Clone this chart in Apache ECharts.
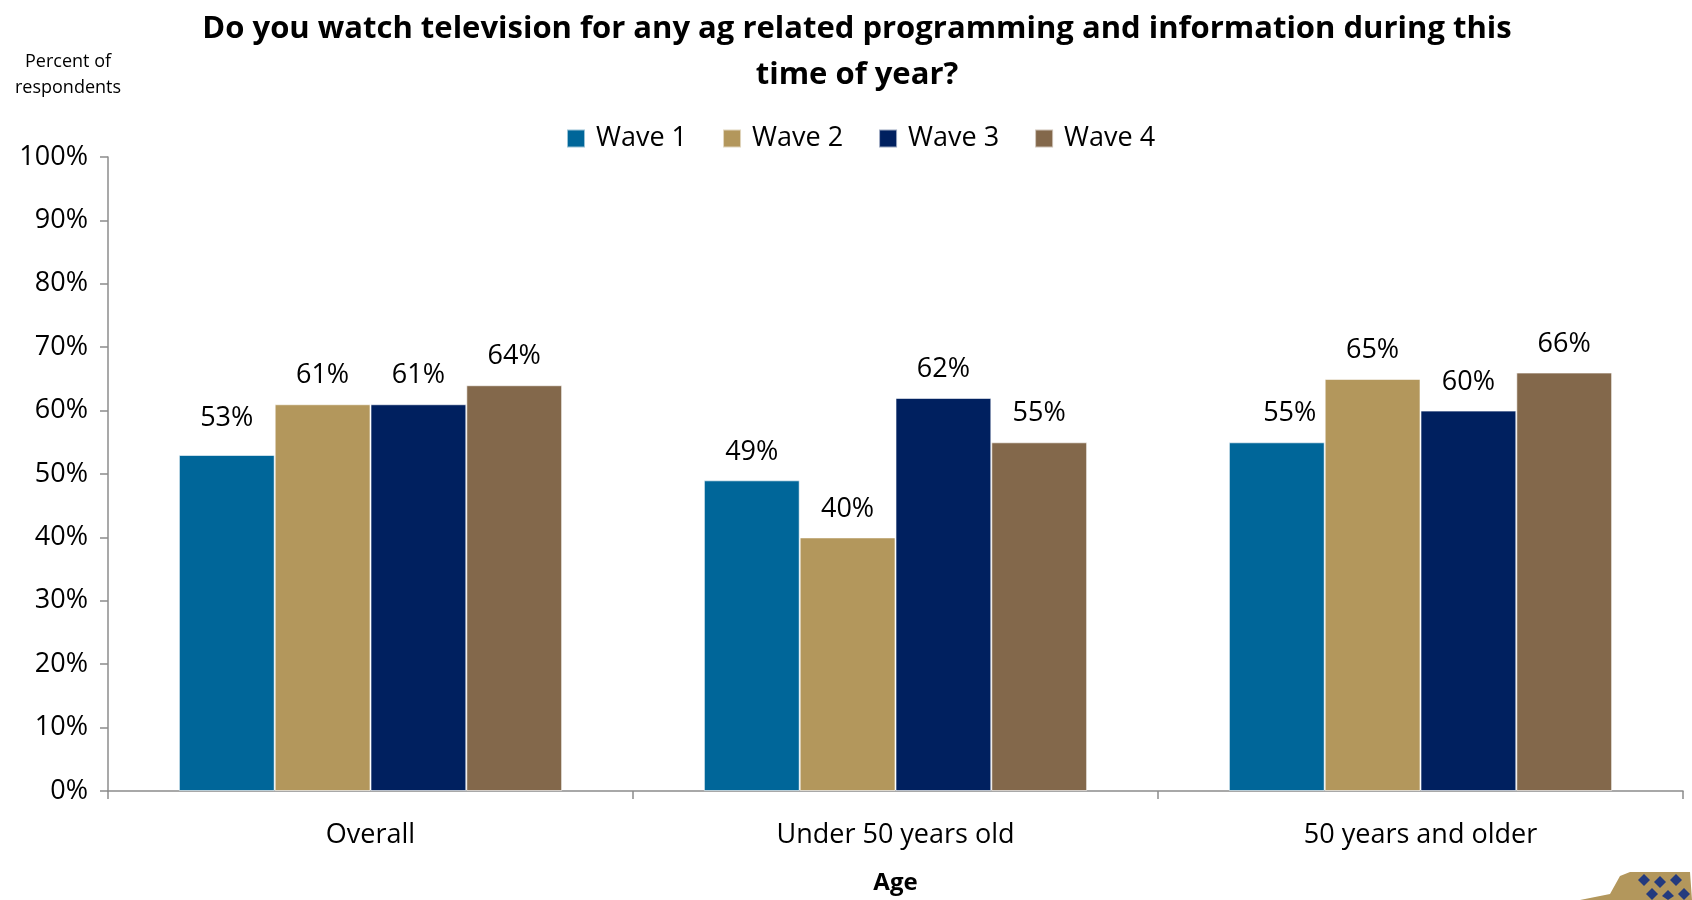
<!DOCTYPE html>
<html>
<head>
<meta charset="utf-8">
<script src="https://cdn.jsdelivr.net/npm/echarts@6/dist/echarts.min.js"></script>
<style>
  html, body { margin: 0; padding: 0; background: #fff; }
  #chart { width: 1692px; height: 900px; }
</style>
</head>
<body>
<div id="chart"></div>
<script>
// Survey answers by age group, one series per wave
const categories = ['Overall', 'Under 50 years old', '50 years and older'];
const seriesNames = ['Wave 1', 'Wave 2', 'Wave 3', 'Wave 4'];
const wave1 = [53, 49, 55];
const wave2 = [61, 40, 65];
const wave3 = [61, 62, 60];
const wave4 = [64, 55, 66];
const waveColors = ['#006699', '#B3975C', '#00205F', '#83684B'];

const FONT = '"Open Sans", "Noto Sans", sans-serif';
const waves = [wave1, wave2, wave3, wave4];

// a couple of Wave 1 labels sit slightly apart from their bars
const labelTweaks = {
  '0-0': { distance: 23 },
  '0-2': { offset: [13, 0] }
};

const chart = echarts.init(document.getElementById('chart'), null, { renderer: 'canvas' });

chart.setOption({
  animation: false,
  textStyle: { fontFamily: FONT, color: '#000' },
  title: {
    text: 'Do you watch television for any ag related programming and information during this\ntime of year?',
    left: 852,
    top: 1,
    textAlign: 'center',
    textStyle: { fontFamily: FONT, fontSize: 31, fontWeight: 'bold', color: '#000', lineHeight: 46 }
  },
  legend: {
    data: seriesNames,
    top: 120,
    left: 561,
    itemWidth: 18,
    itemHeight: 18,
    itemGap: 35,
    icon: 'rect',
    textStyle: { fontFamily: FONT, fontSize: 27, color: '#000', padding: [0, 0, 0, 6] }
  },
  grid: { left: 108, right: 9, top: 157, bottom: 107, containLabel: false },
  xAxis: {
    type: 'category',
    data: categories,
    name: 'Age',
    nameLocation: 'middle',
    nameGap: 80,
    nameTextStyle: { fontFamily: FONT, fontSize: 24, fontWeight: 'bold', color: '#000' },
    axisLine: { lineStyle: { color: '#8c8c8c', width: 1.5 } },
    axisTick: { show: true, length: 8, interval: 0, lineStyle: { color: '#8c8c8c', width: 1.5 } },
    axisLabel: { fontFamily: FONT, fontSize: 27, color: '#000', margin: 31 }
  },
  yAxis: {
    type: 'value',
    min: 0,
    max: 100,
    interval: 10,
    name: 'Percent of\nrespondents',
    nameLocation: 'end',
    nameGap: 0,
    nameTextStyle: { fontFamily: FONT, fontSize: 18, color: '#000', align: 'center', lineHeight: 26, padding: [0, 80, 43, 0] },
    axisLine: { show: true, lineStyle: { color: '#8c8c8c', width: 1.5 } },
    axisTick: { show: true, length: 8, lineStyle: { color: '#8c8c8c', width: 1.5 } },
    splitLine: { show: false },
    axisLabel: { fontFamily: FONT, fontSize: 27, color: '#000', margin: 20, formatter: '{value}%' }
  },
  series: seriesNames.map((name, i) => ({
    name: name,
    type: 'bar',
    data: waves[i].map((v, j) => {
      const tweak = labelTweaks[i + '-' + j];
      return tweak ? { value: v, label: tweak } : v;
    }),
    barGap: '0%',
    barCategoryGap: '27%',
    itemStyle: { color: waveColors[i], borderColor: 'rgba(255,255,255,0.6)', borderWidth: 1 },
    label: {
      show: true,
      position: 'top',
      distance: 15,
      formatter: '{c}%',
      fontFamily: FONT,
      fontSize: 27,
      color: '#000'
    }
  })),
  graphic: [
    {
      // hat emblem in the lower right corner
      type: 'group',
      right: 0,
      bottom: 0,
      children: [
        { type: 'polygon', shape: { points: [[0, 30], [30, 24], [40, 6], [50, 2], [110, 2], [112, 30]] }, style: { fill: '#B3975C' } },
        { type: 'polygon', shape: { points: [[58, 10], [64, 4], [70, 10], [64, 16]] }, style: { fill: '#233A7E' } },
        { type: 'polygon', shape: { points: [[74, 12], [80, 6], [86, 12], [80, 18]] }, style: { fill: '#233A7E' } },
        { type: 'polygon', shape: { points: [[90, 10], [96, 4], [102, 10], [96, 16]] }, style: { fill: '#233A7E' } },
        { type: 'polygon', shape: { points: [[66, 24], [72, 18], [78, 24], [72, 30]] }, style: { fill: '#233A7E' } },
        { type: 'polygon', shape: { points: [[82, 26], [88, 20], [94, 26], [88, 30]] }, style: { fill: '#233A7E' } },
        { type: 'polygon', shape: { points: [[98, 24], [104, 18], [110, 24], [104, 30]] }, style: { fill: '#233A7E' } }
      ]
    }
  ]
});
</script>
</body>
</html>
